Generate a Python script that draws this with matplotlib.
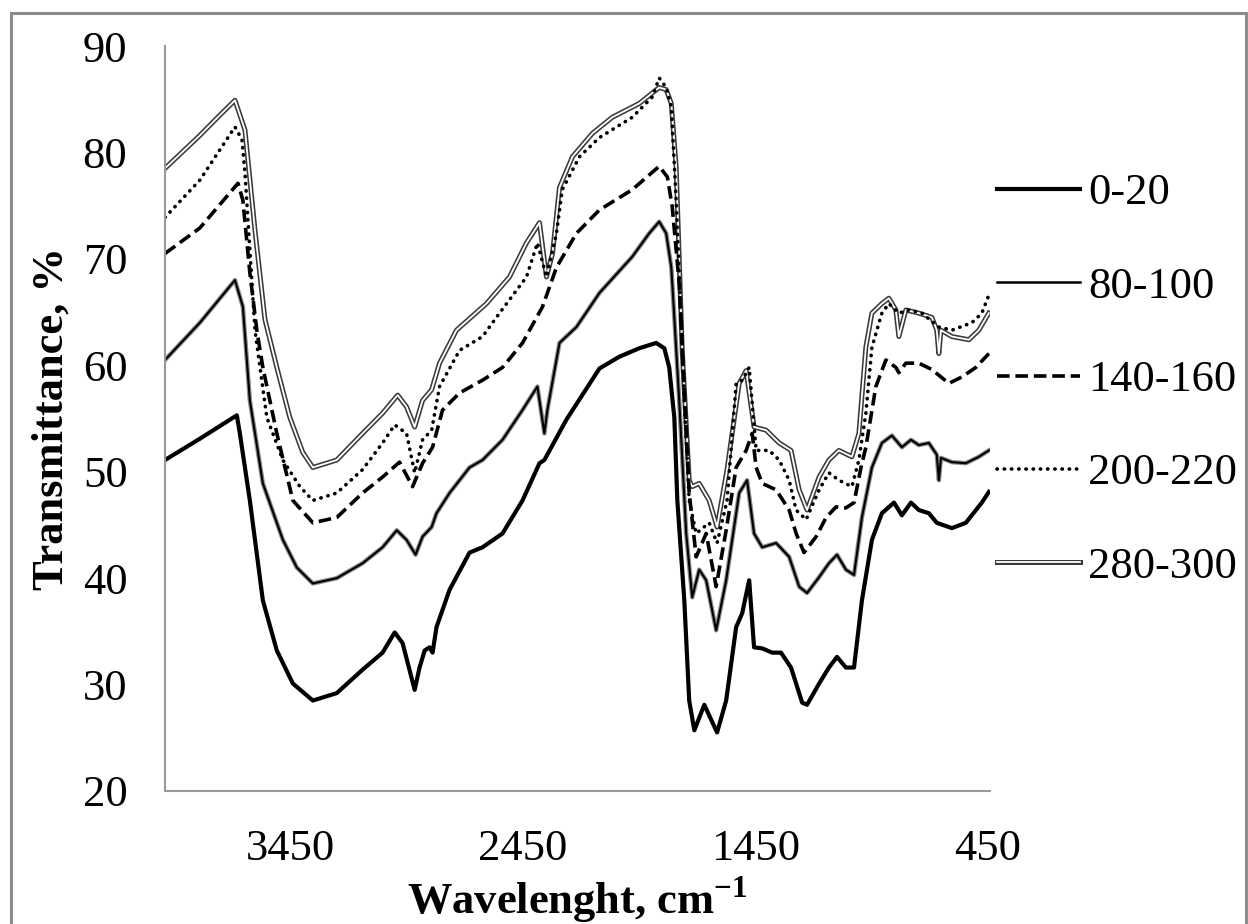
import matplotlib
matplotlib.use("Agg")
import matplotlib.pyplot as plt
from matplotlib.lines import Line2D
from matplotlib.patches import Rectangle

plt.rcParams['font.family'] = ['Liberation Serif', 'DejaVu Serif']
plt.rcParams['mathtext.fontset'] = 'custom'
plt.rcParams['mathtext.rm'] = 'Liberation Serif'
plt.rcParams['mathtext.bf'] = 'Liberation Serif:bold'

## spectra: wavenumber (cm-1) and transmittance (%)
wn_0_20 = [3990, 3840, 3681, 3668, 3625, 3569, 3509, 3440, 3354, 3251, 3140, 3054, 3002, 2968,
           2916, 2895, 2873, 2852, 2839, 2822, 2766, 2680, 2624, 2538, 2452, 2379, 2358, 2263,
           2121, 2036, 1950, 1877, 1842, 1821, 1799, 1786, 1756, 1735, 1713, 1670, 1615, 1576,
           1533, 1507, 1477, 1456, 1421, 1378, 1340, 1297, 1249, 1228, 1176, 1134, 1099, 1061,
           1026, 992, 949, 906, 854, 820, 781, 747, 704, 670, 605, 545, 476, 446]
t_0_20 = [51.1, 53.1, 55.3, 53.6, 47.3, 37.9, 33.2, 30.1, 28.5, 29.2, 31.4, 33.0, 34.9, 33.9,
          29.5, 31.6, 33.2, 33.5, 33.0, 35.4, 38.9, 42.4, 42.9, 44.2, 47.3, 50.8, 51.1, 54.9,
          59.7, 60.8, 61.6, 62.1, 61.6, 59.8, 55.1, 47.3, 37.9, 28.5, 25.7, 28.1, 25.5, 28.5,
          35.4, 36.7, 39.8, 33.5, 33.4, 33.0, 33.0, 31.6, 28.3, 28.1, 30.1, 31.6, 32.6, 31.6,
          31.6, 37.9, 43.6, 46.1, 47.1, 45.9, 47.1, 46.4, 46.1, 45.2, 44.7, 45.2, 47.1, 48.1]

wn_80_100 = [3990, 3840, 3689, 3655, 3625, 3569, 3483, 3423, 3354, 3251, 3140, 3054, 2993, 2951,
             2912, 2882, 2843, 2822, 2766, 2680, 2624, 2538, 2452, 2388, 2358, 2345, 2293, 2220,
             2121, 1980, 1907, 1864, 1834, 1812, 1799, 1778, 1748, 1722, 1692, 1662, 1619, 1576,
             1520, 1486, 1456, 1421, 1361, 1305, 1262, 1228, 1176, 1134, 1099, 1061, 1026, 992,
             949, 906, 863, 820, 781, 747, 704, 670, 661, 652, 605, 545, 489, 446]
t_80_100 = [60.5, 64.0, 68.0, 65.5, 56.7, 48.9, 43.6, 41.0, 39.5, 40.0, 41.4, 42.9, 44.5, 43.6,
            42.2, 43.9, 44.8, 46.1, 48.0, 50.4, 51.1, 53.0, 55.8, 58.0, 53.6, 55.8, 62.1, 63.6,
            66.8, 70.2, 72.4, 73.5, 72.4, 69.2, 64.5, 56.7, 44.2, 38.2, 40.8, 39.8, 35.1, 39.8,
            48.0, 49.2, 44.2, 42.9, 43.3, 42.0, 39.2, 38.6, 40.1, 41.4, 42.2, 40.8, 40.3, 45.7,
            50.4, 52.7, 53.4, 52.3, 53.0, 52.5, 52.7, 51.6, 49.2, 51.3, 50.9, 50.8, 51.4, 52.0]

wn_140_160 = [3990, 3840, 3676, 3655, 3625, 3595, 3569, 3509, 3440, 3354, 3251, 3140, 3054, 2981,
              2925, 2882, 2839, 2796, 2723, 2624, 2538, 2452, 2366, 2306, 2220, 2121, 1980, 1864,
              1829, 1808, 1778, 1735, 1705, 1662, 1619, 1576, 1533, 1490, 1464, 1447, 1421, 1361,
              1305, 1275, 1241, 1189, 1146, 1103, 1061, 1026, 996, 975, 932, 889, 846, 833, 803,
              747, 691, 618, 562, 502, 446]
t_140_160 = [70.5, 72.9, 77.1, 75.5, 68.7, 63.3, 59.8, 53.6, 47.3, 45.2, 45.7, 48.0, 49.5, 50.9,
             48.6, 50.8, 52.3, 55.8, 57.4, 58.6, 59.8, 62.1, 65.5, 69.2, 72.4, 74.6, 76.5, 78.7,
             77.7, 74.9, 67.7, 48.0, 42.0, 44.2, 39.2, 44.5, 50.4, 52.0, 53.6, 50.4, 48.9, 48.3,
             46.4, 44.2, 42.4, 43.9, 45.7, 46.7, 46.6, 47.1, 50.4, 52.3, 58.0, 60.5, 59.8, 59.3,
             60.2, 60.2, 59.6, 58.3, 58.9, 59.8, 61.1]

wn_200_220 = [3990, 3840, 3689, 3659, 3646, 3603, 3552, 3483, 3410, 3354, 3251, 3140, 3054, 3002,
              2951, 2916, 2882, 2843, 2809, 2723, 2624, 2551, 2435, 2388, 2349, 2306, 2281, 2207,
              2121, 1980, 1894, 1864, 1834, 1812, 1791, 1756, 1735, 1705, 1649, 1615, 1572, 1533,
              1507, 1477, 1447, 1391, 1348, 1305, 1275, 1232, 1176, 1134, 1091, 1035, 1005, 975,
              949, 906, 876, 833, 790, 734, 661, 605, 519, 476, 446]
t_200_220 = [73.9, 77.4, 82.4, 81.2, 78.1, 63.3, 55.1, 51.1, 48.6, 47.3, 48.0, 50.2, 52.7, 54.4,
             53.6, 49.9, 53.0, 53.9, 58.0, 61.4, 62.7, 64.9, 68.3, 71.5, 68.3, 72.4, 76.5, 79.6,
             81.4, 83.3, 85.2, 87.0, 86.1, 84.3, 75.5, 56.7, 47.3, 44.2, 45.2, 43.3, 47.3, 58.3,
             58.6, 59.8, 52.0, 52.0, 51.1, 49.2, 46.4, 45.5, 48.3, 49.9, 49.2, 48.6, 51.1, 55.5,
             61.7, 64.9, 65.8, 64.9, 65.2, 64.9, 63.6, 63.3, 64.0, 64.9, 66.6]

wn_280_300 = [3990, 3840, 3754, 3689, 3646, 3603, 3560, 3509, 3453, 3397, 3354, 3251, 3140, 3054,
              2989, 2951, 2916, 2882, 2843, 2809, 2736, 2607, 2508, 2435, 2379, 2349, 2323, 2293,
              2237, 2151, 2066, 1950, 1864, 1834, 1812, 1791, 1765, 1735, 1722, 1692, 1649, 1615,
              1572, 1520, 1490, 1456, 1404, 1348, 1297, 1262, 1228, 1176, 1134, 1091, 1035, 1005,
              975, 949, 906, 876, 846, 833, 803, 747, 691, 670, 661, 652, 605, 532, 489, 446]
t_280_300 = [78.5, 81.6, 83.5, 84.9, 82.1, 72.7, 64.3, 59.8, 55.1, 51.8, 50.4, 51.1, 53.6, 55.5,
             57.2, 56.1, 54.2, 56.7, 57.7, 60.2, 63.3, 65.8, 68.3, 71.5, 73.4, 68.3, 70.5, 76.7,
             79.6, 81.8, 83.3, 84.6, 86.1, 85.9, 84.6, 78.6, 61.4, 49.2, 48.6, 48.9, 47.3, 44.8,
             50.2, 58.3, 59.5, 54.2, 53.9, 52.7, 52.0, 48.3, 46.4, 49.5, 51.1, 52.0, 51.4, 53.6,
             61.7, 64.9, 65.8, 66.3, 65.2, 62.7, 65.2, 64.9, 64.5, 63.3, 61.1, 63.3, 62.7, 62.4,
             63.3, 64.9]

labels = ['0-20', '80-100', '140-160', '200-220', '280-300']
x_ticks = [3450, 2450, 1450, 450]
y_ticks = [20, 30, 40, 50, 60, 70, 80, 90]

fig = plt.figure(figsize=(12.48, 9.24), dpi=100)
ax = fig.add_axes([165 / 1248, 1 - 791 / 924, 825 / 1248, 745 / 924])

# outer chart border
fig.patches.append(Rectangle((11 / 1248, -0.01), 1235 / 1248, 1 - 13 / 924 + 0.01,
                             transform=fig.transFigure, fill=False,
                             edgecolor='#8c8c8c', linewidth=2.2))

# 280-300: double line
ax.plot(wn_280_300, t_280_300, color='#3a3a3a', lw=3.6, solid_joinstyle='round')
ax.plot(wn_280_300, t_280_300, color='white', lw=1.3, solid_joinstyle='round')
# 200-220: dotted
ax.plot(wn_200_220, t_200_220, color='black', lw=2.6, linestyle=(0, (0.1, 1.9)),
        dash_capstyle='round')
# 140-160: dashed
ax.plot(wn_140_160, t_140_160, color='black', lw=2.6, linestyle=(0, (3.5, 1.6)))
# 80-100: thin solid with grey halo
ax.plot(wn_80_100, t_80_100, color='#8a8a8a', lw=3.2, solid_joinstyle='round')
ax.plot(wn_80_100, t_80_100, color='black', lw=1.5, solid_joinstyle='round')
# 0-20: thick solid
ax.plot(wn_0_20, t_0_20, color='black', lw=3.0, solid_joinstyle='round')

ax.set_xlim(3990, 441)
ax.set_ylim(20, 90)
ax.set_xticks(x_ticks)
ax.set_yticks(y_ticks)
ax.tick_params(length=0, labelsize=32, pad=27)
for s in ['top', 'right']:
    ax.spines[s].set_visible(False)
for s in ['left', 'bottom']:
    ax.spines[s].set_color('#999999')
    ax.spines[s].set_linewidth(1.5)

ax.set_ylabel('Transmittance, %', fontsize=32, fontweight='bold')
ax.yaxis.label.set_va('center')
ax.yaxis.set_label_coords(-0.137, 0.5)
ax.set_xlabel(r'Wavelenght, cm$^{\mathbf{-1}}$', fontsize=32, fontweight='bold')
ax.xaxis.label.set_va('center')
ax.xaxis.set_label_coords(0.5, -0.146)

handles = [
    Line2D([], [], color='black', lw=3.0),
    Line2D([], [], color='black', lw=1.8),
    Line2D([], [], color='black', lw=2.6, linestyle=(0, (3.5, 1.6))),
    Line2D([], [], color='black', lw=2.6, linestyle=(0, (0.1, 1.9)), dash_capstyle='round'),
    (Line2D([], [], color='#3a3a3a', lw=3.6), Line2D([], [], color='white', lw=1.3)),
]
fig.legend(handles, labels, loc='center left', bbox_to_anchor=(997 / 1248, 1 - 380 / 924),
           bbox_transform=fig.transFigure, frameon=False, fontsize=32,
           handlelength=1.87, handletextpad=0.18, labelspacing=1.2,
           borderpad=0, borderaxespad=0)

fig.savefig('out.png', dpi=100)
